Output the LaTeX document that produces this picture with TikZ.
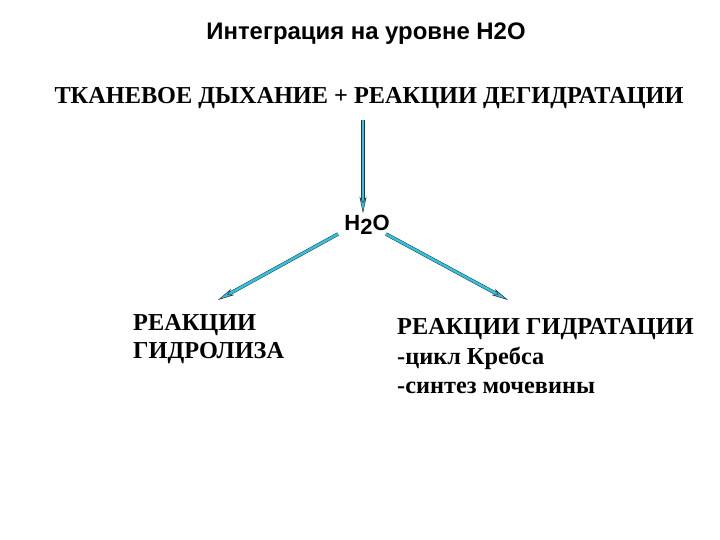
\documentclass[tikz,border=0pt]{standalone}
\usepackage{fontspec}
\setmainfont{Liberation Serif}
\setsansfont{Liberation Sans}
\usetikzlibrary{arrows.meta}

\definecolor{flowcyan}{RGB}{45,195,230}
\tikzset{
    flow/.style={draw=black!80, line width=0.5pt, double=flowcyan, double distance=2.5pt,
        -{Stealth[length=17pt, width=7pt, fill=flowcyan, color=black!80]}},
    lbl/.style={font=\bfseries\fontsize{24.3}{28}\selectfont, inner sep=0pt, anchor=base west}
}

\begin{document}
\begin{tikzpicture}[x=1pt, y=-1pt]
            \useasboundingbox (0, 0) rectangle (720, 540);
            \node[font=\sffamily\bfseries\fontsize{23.9}{28}\selectfont, inner sep=0pt, anchor=base] (TITLE) at (366, 40) {Интеграция на уровне H2O};
            \node[font=\bfseries\fontsize{24.3}{28}\selectfont, inner sep=0pt, anchor=base] (TOP) at (369, 104) {ТКАНЕВОЕ ДЫХАНИЕ + РЕАКЦИИ ДЕГИДРАТАЦИИ};
            \node[font=\sffamily\bfseries\fontsize{22}{26}\selectfont, inner sep=1pt, anchor=base] (WATER) at (367, 230) {H\raisebox{-4pt}{2}O};
            \coordinate (START) at (363, 120);
            \coordinate (FROML) at (338, 234);
            \coordinate (FROMR) at (386, 234);
            \coordinate (LEFT) at (218, 300);
            \coordinate (RIGHT) at (508, 300);
            \node[lbl] (HYDRO1) at (133, 330) {РЕАКЦИИ};
            \node[lbl] (HYDRO2) at (133, 358) {ГИДРОЛИЗА};
            \node[lbl] (HYDRA1) at (397, 334) {РЕАКЦИИ ГИДРАТАЦИИ};
            \node[lbl] (HYDRA2) at (397, 364) {-цикл Кребса};
            \node[lbl] (HYDRA3) at (397, 393) {-синтез мочевины};
            \draw[flow] (START) -- (WATER.north -| START);
            \draw[flow] (FROML) -- (LEFT);
            \draw[flow] (FROMR) -- (RIGHT);
        \end{tikzpicture}
\end{document}
